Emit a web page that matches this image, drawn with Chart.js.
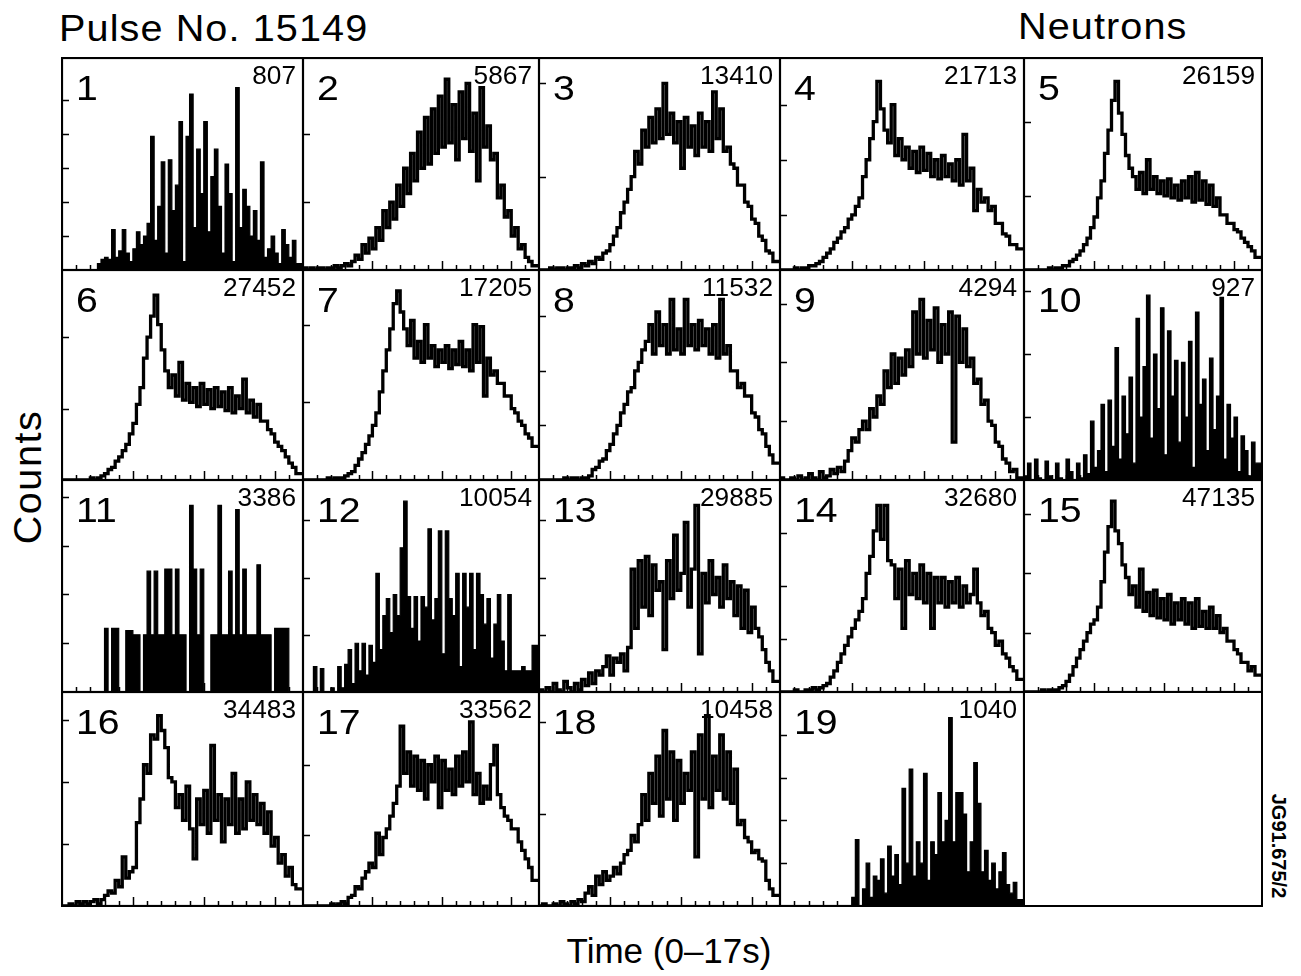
<!DOCTYPE html>
<html>
<head>
<meta charset="utf-8">
<title>Pulse No. 15149 - Neutrons</title>
<script src="https://cdn.jsdelivr.net/npm/chart.js@4.4.0/dist/chart.umd.min.js"></script>
<style>
  body { margin: 0; background: #fff; }
  #page { position: relative; width: 1301px; height: 976px; background: #fff; overflow: hidden;
          font-family: "Liberation Sans", Arial, Helvetica, sans-serif; color: #000; }
  #page canvas { position: absolute; }
  .lbl { position: absolute; white-space: nowrap; line-height: 1; }
  #title { left: 59px; top: 11px; font-size: 36px; letter-spacing: 1px; transform: scaleX(1.1); transform-origin: left; }
  #kind { left: 1018px; top: 9px; font-size: 36px; letter-spacing: 1px; transform: scaleX(1.1); transform-origin: left; }
  #ylab { left: 28px; top: 477px; font-size: 38px; letter-spacing: 1.5px;
          transform: translate(-50%, -50%) rotate(-90deg) scaleX(1.04); }
  #xlab { left: 669px; top: 933px; font-size: 35px; transform: translateX(-50%); }
  #ref { left: 1279px; top: 846px; font-size: 20px; font-weight: bold;
         transform: translate(-50%, -50%) rotate(90deg); }
  .empty { position: absolute; border: 2px solid #000; box-sizing: border-box; }
</style>
</head>
<body>
<div id="page">
  <div class="lbl" id="title">Pulse No. 15149</div>
  <div class="lbl" id="kind">Neutrons</div>
  <div class="lbl" id="ylab">Counts</div>
  <div class="lbl" id="xlab">Time (0–17s)</div>
  <div class="lbl" id="ref">JG91.675/2</div>
</div>
<script>
// neutron camera channels, 0.25 s bins over 0-17 s, relative counts (0-100 of panel height)
const binWidth = 0.25;
const tMax = 17;

const ch1  = [0,0,0,0,0,0,0,0,0,0,0,3,5,6,5,19,6,9,19,8,4,10,18,12,16,22,63,14,30,51,8,52,28,40,70,4,63,83,20,57,36,70,18,44,57,30,8,50,36,4,86,20,38,30,16,28,14,51,6,10,16,8,3,19,12,6,14,3];
const ch2  = [0,1,0,1,0,1,1,0,1,1,2,1,2,3,2,4,7,5,12,8,15,10,20,14,28,20,32,24,40,30,48,36,55,42,65,48,72,50,76,55,82,58,90,60,78,52,84,62,88,56,74,42,86,58,68,52,55,34,40,25,28,16,20,10,12,6,4,2];
const ch3  = [0,0,0,0,1,0,1,1,0,1,1,2,1,3,2,4,3,6,5,8,9,12,16,20,27,32,38,44,56,50,66,58,72,60,76,62,88,64,74,60,70,48,72,58,68,54,74,58,70,56,84,62,76,56,58,50,48,40,40,32,30,24,22,16,14,9,8,4];
const ch4  = [0,0,0,0,0,1,0,1,1,2,2,3,4,6,8,10,13,15,18,20,24,26,30,34,44,52,62,70,89,76,66,60,78,54,62,52,58,48,56,46,58,47,55,44,52,43,54,44,50,42,52,40,64,42,48,28,38,32,34,28,30,22,22,17,16,12,12,10];
const ch5  = [0,0,0,0,0,0,0,0,1,0,1,1,2,2,4,5,7,9,12,15,20,25,34,42,55,66,80,89,74,64,54,48,44,38,46,36,52,38,44,36,42,35,43,34,40,33,42,34,44,32,46,33,42,31,40,30,34,26,26,22,22,19,18,15,13,11,9,6];
const ch6  = [0,0,0,0,0,0,0,0,0,1,0,1,2,3,5,6,9,11,14,17,22,27,36,44,58,68,78,88,74,62,52,44,50,40,56,38,46,37,44,35,46,36,43,34,44,35,42,33,44,32,40,34,48,32,38,30,36,28,28,24,22,18,16,14,11,8,6,3];
const ch7  = [0,0,0,0,0,0,0,0,1,0,1,1,1,2,3,4,7,10,13,17,21,26,32,42,52,62,72,84,90,80,72,64,76,58,66,56,74,58,64,54,62,56,64,53,62,55,66,54,62,52,74,56,73,40,58,50,52,46,46,40,40,34,32,28,26,22,20,16];
const ch8  = [0,0,0,0,0,0,0,0,1,0,1,1,0,1,1,2,5,6,9,10,14,17,22,26,32,36,42,44,52,56,62,66,74,60,80,64,74,60,86,62,72,60,86,64,74,62,76,64,72,60,74,58,86,60,64,52,52,44,46,40,40,32,30,24,22,16,12,8];
const ch9  = [0,1,0,0,1,0,2,0,1,3,1,0,4,1,2,5,3,6,4,9,14,20,18,24,28,24,34,30,40,36,52,44,60,46,58,50,62,54,80,60,86,58,76,62,82,56,74,60,80,18,78,56,72,54,58,46,48,36,38,28,26,18,16,10,8,4,5,1];
const ch10 = [0,2,8,0,10,1,0,9,2,0,8,1,0,10,4,0,8,1,12,3,28,6,14,36,4,38,16,63,10,40,22,49,8,77,30,54,88,20,60,34,82,12,71,40,57,18,56,30,66,6,80,36,48,14,58,24,40,87,10,36,20,30,4,21,14,2,18,8];
const ch11 = [0,0,0,0,0,0,0,0,0,0,0,0,0,30,0,30,30,0,0,29,29,27,27,0,27,57,27,57,27,27,58,58,27,58,27,27,0,88,58,27,58,0,0,27,27,88,27,27,57,27,86,27,58,27,27,27,60,27,27,27,0,30,30,30,30,0,0,0];
const ch12 = [0,0,0,0,12,0,11,0,0,2,0,12,2,13,20,4,23,10,23,8,22,14,56,20,36,44,28,46,36,68,90,45,30,45,24,45,40,77,34,44,76,18,76,44,36,56,12,56,40,56,20,56,46,32,44,16,32,46,24,10,46,10,10,10,12,10,10,22];
const ch13 = [0,1,0,2,0,4,1,0,5,2,0,4,1,6,3,9,4,10,8,12,17,8,16,14,18,10,21,58,30,62,40,64,36,60,48,52,20,62,44,74,48,56,80,40,58,88,18,56,42,62,46,54,40,60,44,52,36,50,30,48,28,40,30,26,20,14,10,5];
const ch14 = [0,0,0,0,0,1,0,0,1,1,2,1,2,3,4,7,10,14,18,22,26,30,34,38,44,56,64,76,88,72,88,62,60,44,58,30,62,46,56,44,60,42,56,30,54,42,54,40,52,42,54,40,50,42,46,58,42,36,38,30,28,22,24,18,16,12,10,6];
const ch15 = [0,0,0,0,0,0,1,0,1,1,1,2,3,5,8,12,16,20,24,28,32,34,40,52,66,78,90,76,70,60,54,46,50,40,58,38,47,36,48,35,44,34,46,32,42,34,44,32,42,30,44,31,38,30,40,30,36,28,30,24,24,20,18,14,14,10,12,8];
const ch16 = [0,0,0,1,0,2,1,2,1,2,3,1,3,5,7,6,12,9,23,13,16,18,39,50,66,62,80,78,89,82,74,60,58,46,52,40,56,36,22,50,38,54,34,75,40,52,30,50,38,62,34,50,36,58,40,52,38,48,34,44,28,32,20,24,14,18,10,8];
const ch17 = [0,0,0,0,0,0,0,0,0,1,0,1,2,1,4,5,9,8,13,16,20,18,34,24,32,36,42,48,56,84,62,72,56,70,54,68,50,66,58,70,46,68,54,64,52,70,56,72,58,86,52,62,48,56,50,66,75,52,46,42,40,36,36,30,26,22,18,12];
const ch18 = [0,0,1,0,0,1,0,2,1,0,2,1,3,2,6,9,5,14,10,16,12,14,18,15,20,24,26,33,30,38,52,40,62,48,70,42,82,50,72,40,68,48,62,54,72,23,80,50,89,46,70,54,80,50,72,48,64,38,40,32,30,25,26,22,21,12,8,5];
const ch19 = [0,0,0,0,0,0,0,0,0,0,0,0,0,0,0,0,0,0,0,0,0,4,31,0,8,20,4,14,12,22,6,28,14,24,10,55,20,64,14,30,20,62,12,30,24,53,30,40,88,30,53,53,43,16,30,67,48,16,26,12,20,8,16,25,10,6,11,3];

const channels = [ch1, ch2, ch3, ch4, ch5, ch6, ch7, ch8, ch9, ch10,
                  ch11, ch12, ch13, ch14, ch15, ch16, ch17, ch18, ch19];
// integrated counts printed in each panel
const channelTotals = [807, 5867, 13410, 21713, 26159, 27452, 17205, 11532, 4294, 927,
                       3386, 10054, 29885, 32680, 47135, 34483, 33562, 10458, 1040];
// spacing of the count ticks on each panel's left edge
const yTickStep = [16, 32, 44, 26, 35, 34, 37, 26, 28, 30, 23, 27, 27, 25, 28, 29, 33, 43, 20];
// low-count channels drawn as solid histograms
const solidChannels = [1, 10, 11, 12, 19];

// panel grid edges (px)
const colEdges = [62, 303, 539, 780, 1024, 1262];
const rowEdges = [58, 270, 480, 692, 906];

const FONT = '"Liberation Sans", Arial, Helvetica, sans-serif';

function toPoints(vals) {
  const pts = vals.map((v, i) => ({ x: i * binWidth, y: v }));
  pts.push({ x: tMax, y: vals[vals.length - 1] });
  return pts;
}

// frame, inner ticks and the channel number / total labels
const panelFrame = {
  id: 'panelFrame',
  beforeDatasetsDraw(chart, args, opts) {
    const { ctx, chartArea: a } = chart;
    ctx.save();
    ctx.fillStyle = '#000';
    ctx.textBaseline = 'alphabetic';
    ctx.font = '35px ' + FONT;
    ctx.translate(a.left + 14, a.top + 42);
    ctx.scale(1.12, 1);
    ctx.textAlign = 'left';
    ctx.fillText(String(opts.num), 0, 0);
    ctx.restore();

    ctx.save();
    ctx.fillStyle = '#000';
    ctx.font = '25px ' + FONT;
    ctx.textAlign = 'right';
    ctx.translate(a.right - 7, a.top + 26);
    ctx.scale(1.05, 1);
    ctx.fillText(String(opts.total), 0, 0);
    ctx.restore();
  },
  afterDraw(chart, args, opts) {
    const { ctx, chartArea: a, scales: { x, y } } = chart;
    ctx.save();
    ctx.strokeStyle = '#000';
    ctx.lineWidth = 1.5;
    ctx.beginPath();
    for (let s = 1; s < tMax; s++) {
      const px = Math.round(x.getPixelForValue(s)) + 0.5;
      const len = s % 5 === 0 ? 9 : 5;
      ctx.moveTo(px, a.bottom);
      ctx.lineTo(px, a.bottom - len);
    }
    for (let v = opts.step; v < 96; v += opts.step) {
      const py = Math.round(y.getPixelForValue(v)) + 0.5;
      ctx.moveTo(a.left, py);
      ctx.lineTo(a.left + 7, py);
    }
    ctx.stroke();
    ctx.lineWidth = 2.2;
    ctx.strokeRect(a.left, a.top, a.right - a.left, a.bottom - a.top);
    ctx.restore();
  }
};

const page = document.getElementById('page');

channels.forEach((vals, i) => {
  const col = i % 5, row = Math.floor(i / 5);
  const left = colEdges[col] - 1, top = rowEdges[row] - 1;
  const w = colEdges[col + 1] - colEdges[col] + 2;
  const h = rowEdges[row + 1] - rowEdges[row] + 2;
  const canvas = document.createElement('canvas');
  canvas.width = w;
  canvas.height = h;
  canvas.style.left = left + 'px';
  canvas.style.top = top + 'px';
  canvas.style.width = w + 'px';
  canvas.style.height = h + 'px';
  page.appendChild(canvas);

  const solid = solidChannels.includes(i + 1);
  new Chart(canvas, {
    type: 'line',
    data: {
      datasets: [{
        data: toPoints(vals),
        stepped: 'after',
        borderColor: '#000',
        backgroundColor: '#000',
        borderWidth: solid ? 1.2 : 3.3,
        borderJoinStyle: 'miter',
        pointRadius: 0,
        fill: solid ? 'origin' : false
      }]
    },
    options: {
      responsive: false,
      animation: false,
      devicePixelRatio: 1,
      layout: { padding: 1 },
      scales: {
        x: { type: 'linear', min: 0, max: tMax, display: false },
        y: { min: 0, max: 100, display: false }
      },
      plugins: {
        legend: { display: false },
        tooltip: { enabled: false },
        panelFrame: { num: i + 1, total: channelTotals[i], step: yTickStep[i] }
      }
    },
    plugins: [panelFrame]
  });
});

// unused twentieth slot
const empty = document.createElement('div');
empty.className = 'empty';
empty.style.left = (colEdges[4] - 1) + 'px';
empty.style.top = (rowEdges[3] - 1) + 'px';
empty.style.width = (colEdges[5] - colEdges[4] + 2) + 'px';
empty.style.height = (rowEdges[4] - rowEdges[3] + 2) + 'px';
page.appendChild(empty);
</script>
</body>
</html>
